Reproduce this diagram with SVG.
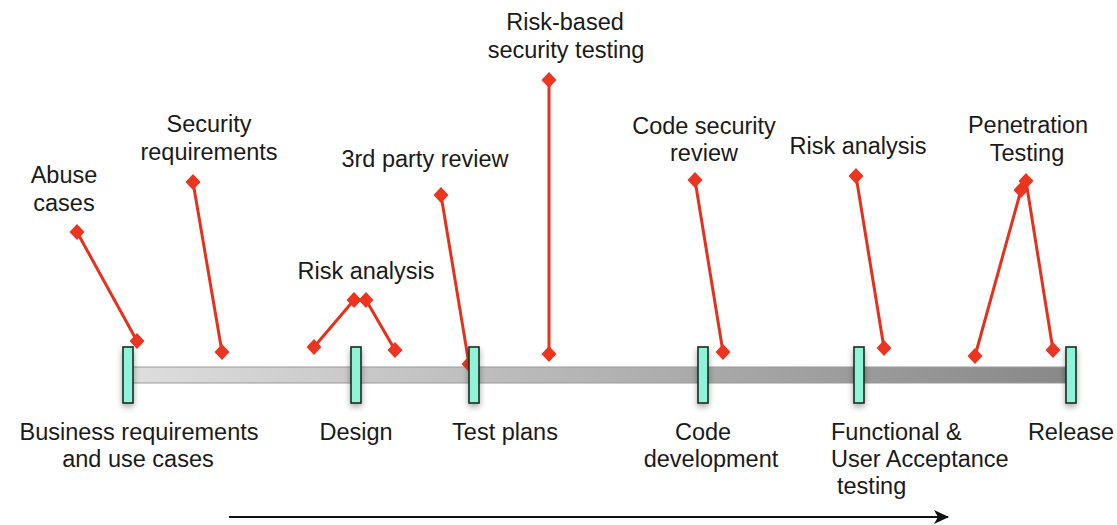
<svg xmlns="http://www.w3.org/2000/svg" width="1117" height="525" viewBox="0 0 1117 525">
<style>
text{font-family:"Liberation Sans",Arial,sans-serif;font-size:23.5px;fill:#1a1a1a;text-anchor:middle}
.ms{fill:#8ff3d6;stroke:#1a2a24;stroke-width:1.6;filter:url(#sh)}
.act{stroke:#e5301c;stroke-width:3;fill:none;marker-start:url(#dia);marker-end:url(#dia)}
</style>
<defs>
<linearGradient id="bar" x1="0" y1="0" x2="1" y2="0">
<stop offset="0" stop-color="#dedede"/>
<stop offset="1" stop-color="#888888"/>
</linearGradient>
<filter id="sh" x="-100%" y="-30%" width="300%" height="160%">
<feDropShadow dx="0" dy="3" stdDeviation="3" flood-color="#000" flood-opacity="0.35"/>
</filter>
<marker id="dia" markerUnits="userSpaceOnUse" markerWidth="18" markerHeight="18" refX="9" refY="9" orient="0" viewBox="0 0 18 18">
<path d="M9 1 L16.5 9 L9 17 L1.5 9 Z" fill="#ec3520"/>
</marker>
<marker id="arr" markerUnits="userSpaceOnUse" markerWidth="16" markerHeight="14" refX="14" refY="7" orient="auto" viewBox="0 0 16 14">
<path d="M0 0 L15 7 L0 14 L4 7 Z" fill="#111"/>
</marker>
</defs>
<rect width="1117" height="525" fill="#fff"/>
<g id="timeline">
<rect x="128" y="367" width="942" height="16" fill="url(#bar)" stroke="#9a9a9a" stroke-width="1"/>
</g>
<g id="connectors">
<line class="act" x1="77" y1="232" x2="137" y2="341"/>
<line class="act" x1="193" y1="182" x2="222" y2="352"/>
<line class="act" x1="314" y1="347" x2="354" y2="300"/>
<line class="act" x1="366" y1="300" x2="395" y2="350"/>
<line class="act" x1="441" y1="195" x2="469" y2="364"/>
<line class="act" x1="549" y1="80" x2="549" y2="354"/>
<line class="act" x1="695" y1="180" x2="723" y2="352"/>
<line class="act" x1="856" y1="176" x2="884" y2="348"/>
<line class="act" x1="975" y1="356" x2="1021" y2="190"/>
<line class="act" x1="1026" y1="181" x2="1053" y2="350"/>
</g>
<g id="m-business"><rect class="ms" x="123" y="347" width="10" height="56"/><text x="139" y="440">Business requirements</text><text x="138" y="467">and use cases</text></g>
<g id="m-design"><rect class="ms" x="351" y="347" width="10" height="56"/><text x="356" y="440">Design</text></g>
<g id="m-testplans"><rect class="ms" x="469" y="347" width="10" height="56"/><text x="505" y="440">Test plans</text></g>
<g id="m-code"><rect class="ms" x="698" y="347" width="10" height="56"/><text x="703" y="440">Code</text><text x="711" y="467">development</text></g>
<g id="m-functional"><rect class="ms" x="854" y="347" width="10" height="56"/><text x="831" y="440" style="text-anchor:start">Functional &amp;</text><text x="831" y="467" style="text-anchor:start">User Acceptance</text><text x="837" y="494" style="text-anchor:start">testing</text></g>
<g id="m-release"><rect class="ms" x="1066" y="347" width="10" height="56"/><text x="1071" y="440">Release</text></g>
<g id="a-abuse"><text x="64" y="183">Abuse</text><text x="64" y="211">cases</text></g>
<g id="a-secreq"><text x="209" y="132">Security</text><text x="209" y="160">requirements</text></g>
<g id="a-risk1"><text x="366" y="279">Risk analysis</text></g>
<g id="a-3rdparty"><text x="425" y="167">3rd party review</text></g>
<g id="a-riskbased"><text x="565" y="30">Risk-based</text><text x="566" y="58">security testing</text></g>
<g id="a-codesec"><text x="704" y="134">Code security</text><text x="704" y="161">review</text></g>
<g id="a-risk2"><text x="858" y="154">Risk analysis</text></g>
<g id="a-pentest"><text x="1028" y="133">Penetration</text><text x="1027" y="161">Testing</text></g>
<g id="time-arrow"><line x1="229" y1="517" x2="948" y2="517" stroke="#111" stroke-width="2" marker-end="url(#arr)"/></g>
</svg>
